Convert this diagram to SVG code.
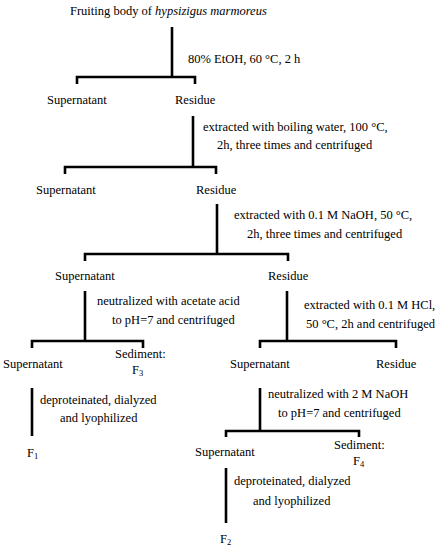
<svg xmlns="http://www.w3.org/2000/svg" width="440" height="550" viewBox="0 0 440 550">
<style>
text{font-family:"Liberation Serif","Times New Roman",serif;font-size:12.5px;fill:#000}
.sub{font-size:8.5px}
#connectors path{fill:none;stroke:#000;stroke-width:2.6}
</style>
<rect width="440" height="550" fill="#fff"/>
<g id="connectors">
<path d="M172,27 V77"/>
<path d="M77,84 V77 H195 V84"/>
<path d="M193,116 V167"/>
<path d="M65,174 V167 H216 V174"/>
<path d="M217,204 V254"/>
<path d="M85,261 V254 H288 V261"/>
<path d="M85,291 V341"/>
<path d="M32,348 V341 H143 V348"/>
<path d="M287,291 V341"/>
<path d="M260,348 V341 H396 V348"/>
<path d="M32,388 V436"/>
<path d="M260,388 V431"/>
<path d="M226,437 V431 H359 V437"/>
<path d="M226,468 V523"/>
</g>
<g id="labels">
<text x="188" y="63">80% EtOH, 60 °C, 2 h</text>
<text x="203" y="131">extracted with boiling water, 100 °C,</text>
<text x="217" y="149">2h, three times and centrifuged</text>
<text x="234" y="219">extracted with 0.1 M NaOH, 50 °C,</text>
<text x="247" y="238">2h, three times and centrifuged</text>
<text x="97" y="305">neutralized with acetate acid</text>
<text x="112" y="324">to pH=7 and centrifuged</text>
<text x="304" y="309">extracted with 0.1 M HCl,</text>
<text x="306" y="328">50 °C, 2h and centrifuged</text>
<text x="40" y="404">deproteinated, dialyzed</text>
<text x="60" y="422">and lyophilized</text>
<text x="268" y="398">neutralized with 2 M NaOH</text>
<text x="278" y="417">to pH=7 and centrifuged</text>
<text x="234" y="485">deproteinated, dialyzed</text>
<text x="253" y="505">and lyophilized</text>
</g>
<g id="n-root"><text x="70" y="15">Fruiting body of <tspan font-style="italic">hypsizigus marmoreus</tspan></text></g>
<g id="n-sup1"><text x="47" y="104">Supernatant</text></g>
<g id="n-res1"><text x="175" y="104">Residue</text></g>
<g id="n-sup2"><text x="36" y="194">Supernatant</text></g>
<g id="n-res2"><text x="196" y="194">Residue</text></g>
<g id="n-sup3"><text x="55" y="280">Supernatant</text></g>
<g id="n-res3"><text x="268" y="280">Residue</text></g>
<g id="n-sup4"><text x="3" y="368">Supernatant</text></g>
<g id="n-sed3"><text x="115" y="358">Sediment:</text><text x="132" y="374">F<tspan class="sub" dy="2">3</tspan></text></g>
<g id="n-sup5"><text x="230" y="368">Supernatant</text></g>
<g id="n-res4"><text x="376" y="368">Residue</text></g>
<g id="n-f1"><text x="27" y="457">F<tspan class="sub" dy="2">1</tspan></text></g>
<g id="n-sup6"><text x="195" y="456">Supernatant</text></g>
<g id="n-sed4"><text x="334" y="449">Sediment:</text><text x="353" y="465">F<tspan class="sub" dy="2">4</tspan></text></g>
<g id="n-f2"><text x="220" y="543">F<tspan class="sub" dy="2">2</tspan></text></g>
</svg>
